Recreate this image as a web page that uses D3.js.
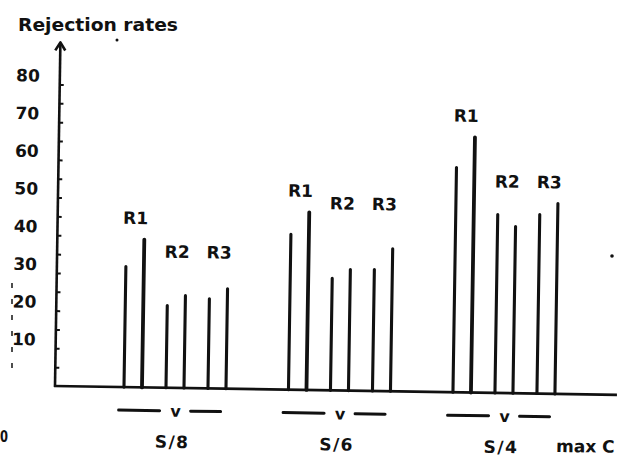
<!DOCTYPE html>
<html>
<head>
<meta charset="utf-8">
<script src="https://cdn.jsdelivr.net/npm/d3@7"></script>
<style>
  html, body { margin: 0; padding: 0; background: #fff; }
  svg text { font-family: "DejaVu Sans", sans-serif; font-weight: bold; fill: #111; }
</style>
</head>
<body>
<svg id="chart" width="627" height="457"></svg>
<script>
// groupes (charge) et séries
const groups = ["S/8", "S/6", "S/4"];
const series = ["R1", "R2", "R3"];

// taux de rejet, deux barres par série
const r1a = [32.4, 41.6, 60.0];
const r1b = [39.6, 47.5, 68.1];
const r2a = [22.2, 30.1, 47.7];
const r2b = [24.9, 32.5, 44.6];
const r3a = [24.2, 32.6, 47.9];
const r3b = [26.9, 38.2, 50.9];

const yTickLabels = [10, 20, 30, 40, 50, 60, 70, 80];
const yMinorTicks = [5, 10, 15, 20, 25, 30, 35, 40, 45, 50, 55, 60, 65, 70, 75, 80];
// niveau des étiquettes "R2 R3" (en unités du graphe)
const labelLevelR23 = [34.5, 48, 54.5];

const pairs = { R1: [r1a, r1b], R2: [r2a, r2b], R3: [r3a, r3b] };

const rows = [];
groups.forEach((g, i) => {
    series.forEach(s => {
        pairs[s].forEach((arr, j) => rows.push({ g: g, gi: i, s: s, j: j, v: arr[i] }));
    });
});

const svg = d3.select("#chart");
svg.append("rect").attr("width", 627).attr("height", 457).attr("fill", "#fff");

const x0 = 55;       // axe vertical
const yBase = 386;   // ligne de base

// le scan est légèrement tourné
const plot = svg.append("g").attr("transform", `rotate(0.9 ${x0} ${yBase})`);

const y = d3.scaleLinear().domain([0, 80]).range([yBase, yBase - 3.77 * 80]);
const xGroup = d3.scalePoint().domain(groups).range([124, 453]);
const xSeries = d3.scalePoint().domain(series).range([0, 84]);
const xPair = d3.scalePoint().domain([0, 1]).range([0, 18]);

const barX = d => xGroup(d.g) + xSeries(d.s) + xPair(d.j);
const groupCenter = g => xGroup(g) + 51;

// axe Y + flèche
plot.append("line")
    .attr("x1", x0).attr("x2", x0)
    .attr("y1", y(0) + 1).attr("y2", y(80) - 40)
    .attr("stroke", "#111").attr("stroke-width", 2.6);
plot.append("path")
    .attr("d", `M${x0 - 5},${y(80) - 34} L${x0},${y(80) - 42} L${x0 + 5},${y(80) - 34}`)
    .attr("fill", "none").attr("stroke", "#111").attr("stroke-width", 2.6)
    .attr("stroke-linejoin", "round");

// petites graduations
const minor = plot.append("g")
    .attr("transform", `translate(${x0},0)`)
    .call(d3.axisRight(y).tickValues(yMinorTicks).tickSize(4).tickFormat(""));
minor.select(".domain").remove();
minor.selectAll("line").attr("stroke", "#111").attr("stroke-width", 2);

// étiquettes de l'axe Y
const labels = plot.append("g")
    .attr("transform", `translate(${x0},0)`)
    .call(d3.axisLeft(y).tickValues(yTickLabels).tickSize(0).tickPadding(20));
labels.select(".domain").remove();
labels.selectAll("text")
    .attr("dy", -3)
    .attr("font-size", 17)
    .attr("font-family", "DejaVu Sans, sans-serif")
    .attr("font-weight", "bold")
    .attr("fill", "#111");

// ligne de base
plot.append("line")
    .attr("x1", x0 - 1).attr("x2", 617)
    .attr("y1", y(0)).attr("y2", y(0))
    .attr("stroke", "#111").attr("stroke-width", 2.6);

// barres
plot.selectAll("line.bar")
    .data(rows)
    .join("line")
    .attr("class", "bar")
    .attr("x1", barX).attr("x2", barX)
    .attr("y1", y(0))
    .attr("y2", d => y(d.v) + 1.5)
    .attr("stroke", "#111")
    .attr("stroke-width", d => d.s === "R1" && d.j === 1 ? 3.8 : 3.1)
    .attr("stroke-linecap", "round");

// étiquettes R1 / R2 / R3
groups.forEach((g, i) => {
    series.forEach(s => {
        const cx = xGroup(g) + xSeries(s) + 9;
        const ty = s === "R1"
            ? y(Math.max(r1a[i], r1b[i])) - 14
            : y(labelLevelR23[i]);
        plot.append("text")
            .attr("x", cx).attr("y", ty)
            .attr("text-anchor", "middle")
            .attr("font-size", 17)
            .text(s);
    });
});

// "— v —" et S/x sous l'axe
const dashY = 409;
groups.forEach(g => {
    const c = groupCenter(g);
    plot.append("line")
        .attr("x1", c - 56).attr("x2", c - 15)
        .attr("y1", dashY).attr("y2", dashY)
        .attr("stroke", "#111").attr("stroke-width", 3).attr("stroke-linecap", "round");
    plot.append("line")
        .attr("x1", c + 16).attr("x2", c + 46)
        .attr("y1", dashY).attr("y2", dashY)
        .attr("stroke", "#111").attr("stroke-width", 3).attr("stroke-linecap", "round");
    plot.append("text")
        .attr("x", c + 1).attr("y", dashY + 6)
        .attr("text-anchor", "middle")
        .attr("font-size", 16)
        .text("v");
    plot.append("text")
        .attr("x", c - 2).attr("y", 446)
        .attr("text-anchor", "middle")
        .attr("font-size", 17)
        .attr("letter-spacing", 1.5)
        .text(g);
});

plot.append("text")
    .attr("x", 557).attr("y", 444)
    .attr("font-size", 17)
    .text("max C");

// titre
svg.append("text")
    .attr("x", 18).attr("y", 31)
    .attr("font-size", 17)
    .attr("textLength", 160)
    .attr("lengthAdjust", "spacingAndGlyphs")
    .text("Rejection rates");

// "0" en bas à gauche
svg.append("text")
    .attr("x", 0).attr("y", 442)
    .attr("font-size", 15)
    .attr("textLength", 8)
    .attr("lengthAdjust", "spacingAndGlyphs")
    .text("0");

// traces du scan
svg.append("line")
    .attr("x1", 12).attr("x2", 12).attr("y1", 283).attr("y2", 376)
    .attr("stroke", "#222").attr("stroke-width", 1.6)
    .attr("stroke-dasharray", "5,11");
svg.append("circle").attr("cx", 117).attr("cy", 40).attr("r", 1.5).attr("fill", "#111");
svg.append("circle").attr("cx", 612).attr("cy", 256).attr("r", 1.8).attr("fill", "#111");
</script>
</body>
</html>
